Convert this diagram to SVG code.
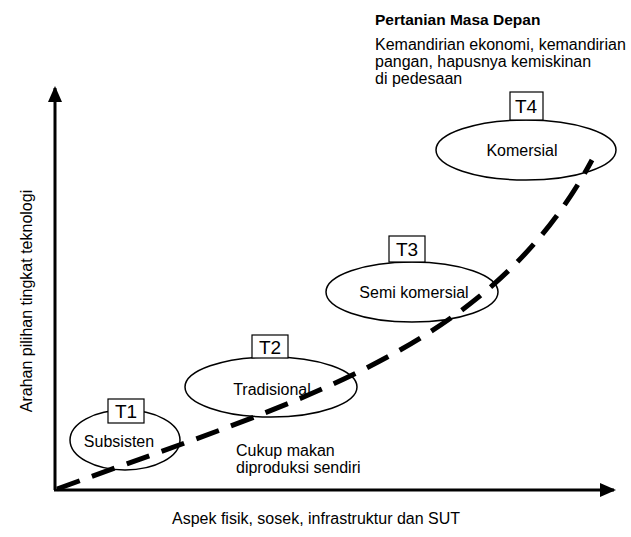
<svg xmlns="http://www.w3.org/2000/svg" width="631" height="537" viewBox="0 0 631 537">
<style>
text{font-family:"Liberation Sans",Arial,sans-serif;fill:#000}
.lbl{font-size:16px}
.t{font-size:19px}
.node ellipse{fill:#fff;stroke:#000;stroke-width:1.5}
.node rect{fill:#fff;stroke:#000;stroke-width:1.2}
.axis{stroke:#000;stroke-width:3;fill:none}
.curve{stroke:#000;stroke-width:5;fill:none;stroke-dasharray:24 13}
</style>
<defs>
<marker id="ah" viewBox="0 0 16 14" refX="14" refY="7" markerWidth="16" markerHeight="14" markerUnits="userSpaceOnUse" orient="auto">
<path d="M0,0 L16,7 L0,14 Z" fill="#000"/>
</marker>
</defs>
<g id="node-t1" class="node">
<ellipse cx="125" cy="440" rx="55" ry="30"/>
<text class="lbl" x="119" y="447" text-anchor="middle">Subsisten</text>
<rect x="108" y="399" width="36" height="24"/>
<text class="t" x="126" y="418" text-anchor="middle">T1</text>
</g>
<g id="node-t2" class="node">
<ellipse cx="271" cy="387" rx="86" ry="30"/>
<text class="lbl" x="272" y="395" text-anchor="middle">Tradisional</text>
<rect x="252" y="335" width="36" height="23"/>
<text class="t" x="270" y="354" text-anchor="middle">T2</text>
</g>
<g id="node-t3" class="node">
<ellipse cx="412" cy="292" rx="86" ry="30"/>
<text class="lbl" x="414" y="298" text-anchor="middle">Semi komersial</text>
<rect x="389" y="236" width="36" height="26"/>
<text class="t" x="407" y="256" text-anchor="middle">T3</text>
</g>
<g id="node-t4" class="node">
<ellipse cx="526" cy="150" rx="90" ry="30"/>
<text class="lbl" x="522" y="156" text-anchor="middle">Komersial</text>
<rect x="510" y="92" width="33" height="28"/>
<text class="t" x="526" y="113" text-anchor="middle">T4</text>
</g>
<g id="connectors">
<line class="axis" x1="55" y1="490" x2="55" y2="88" marker-end="url(#ah)"/>
<line class="axis" x1="54" y1="490" x2="614" y2="490" marker-end="url(#ah)"/>
<path class="curve" d="M57,489 C300,400 490,350 592,160"/>
</g>
<g id="texts">
<text x="375" y="25" style="font-size:15.5px;font-weight:bold">Pertanian Masa Depan</text>
<text class="lbl" x="375" y="50">Kemandirian ekonomi, kemandirian</text>
<text class="lbl" x="375" y="67">pangan, hapusnya kemiskinan</text>
<text class="lbl" x="375" y="84">di pedesaan</text>
<text class="lbl" x="236" y="456">Cukup makan</text>
<text class="lbl" x="236" y="473">diproduksi sendiri</text>
<text class="lbl" x="172" y="524">Aspek fisik, sosek, infrastruktur dan SUT</text>
<text class="lbl" transform="translate(32,301) rotate(-90)" text-anchor="middle">Arahan pilihan tingkat teknologi</text>
</g>
</svg>
